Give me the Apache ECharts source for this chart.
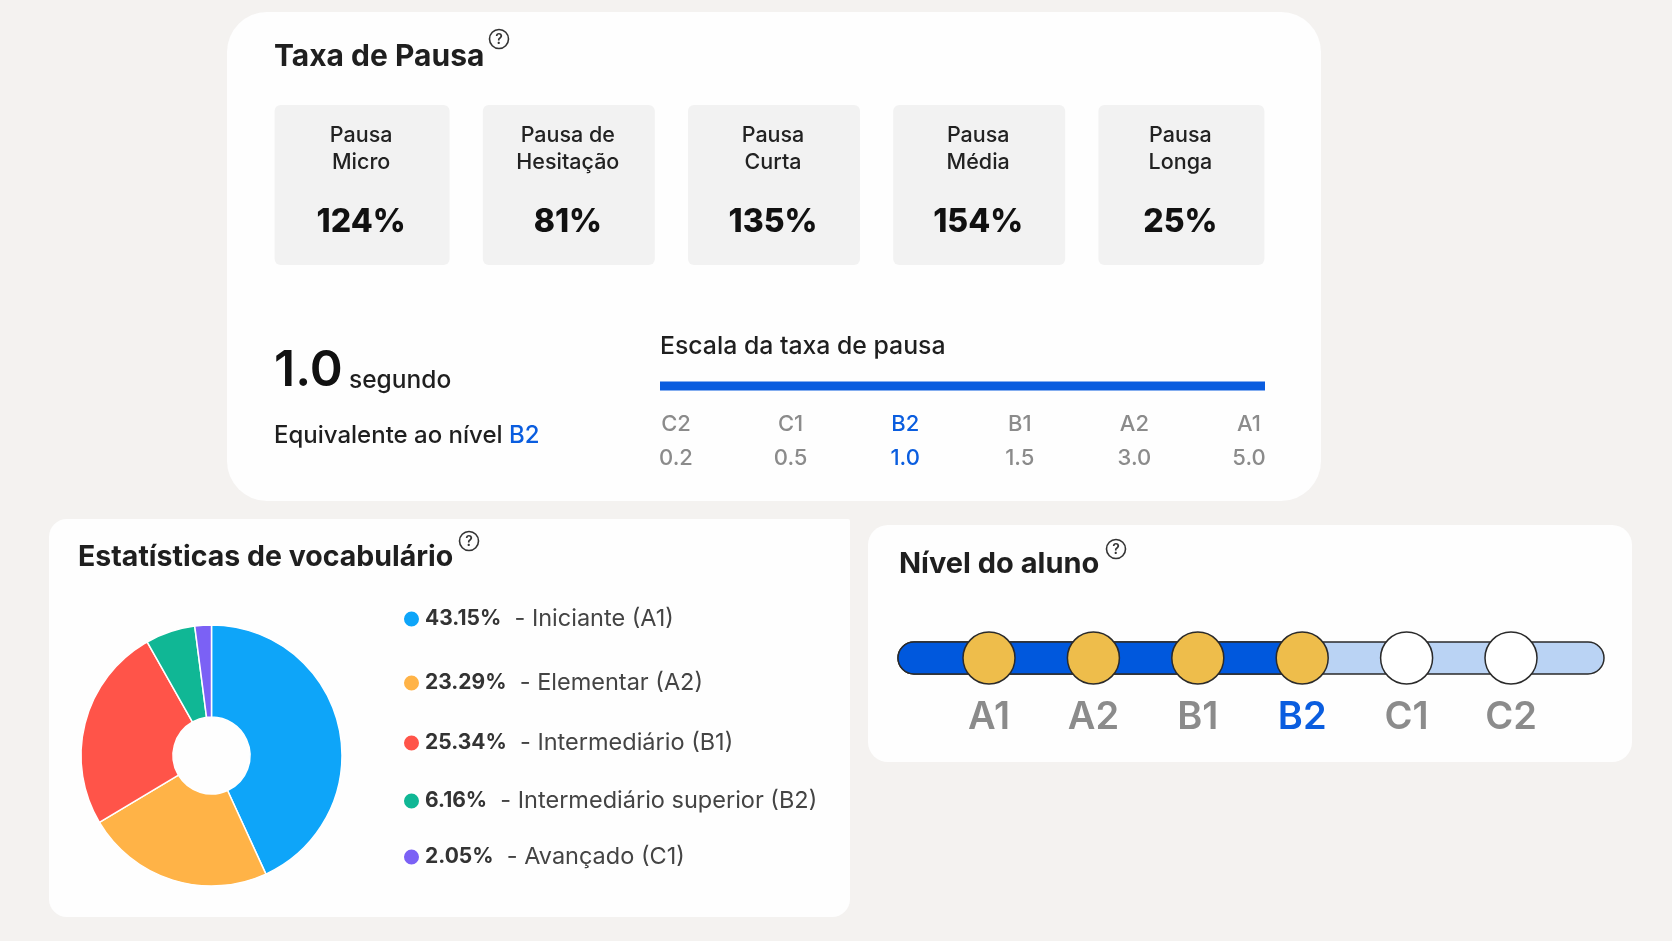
<!DOCTYPE html>
<html>
<head>
<meta charset="utf-8">
<title>Taxa de Pausa</title>
<script src="https://cdn.jsdelivr.net/npm/echarts@6/dist/echarts.min.js"></script>
<style>
html, body { margin: 0; padding: 0; background: #f4f2f0; }
#main { width: 1672px; height: 941px; }
</style>
</head>
<body>
<div id="main"></div>
<script>
// data
var pauseNames = ['Pausa\nMicro', 'Pausa de\nHesitação', 'Pausa\nCurta', 'Pausa\nMédia', 'Pausa\nLonga'];
var pauseRates = [124, 81, 135, 154, 25];
var scaleLevels = ['C2', 'C1', 'B2', 'B1', 'A2', 'A1'];
var scaleSeconds = ['0.2', '0.5', '1.0', '1.5', '3.0', '5.0'];
var vocabNames = ['Iniciante (A1)', 'Elementar (A2)', 'Intermediário (B1)', 'Intermediário superior (B2)', 'Avançado (C1)'];
var vocabShares = [43.15, 23.29, 25.34, 6.16, 2.05];
var studentLevels = ['A1', 'A2', 'B1', 'B2', 'C1', 'C2'];
var currentLevel = 'B2';

// layout and colours
var FONT = 'Inter';
var BLUE = '#0a5ddf';
var GREY = '#8b8b8b';
var INK = '#1f1f1f';
var vocabColors = ['#0ea5f9', '#ffb347', '#ff5449', '#10b795', '#7b61f5'];
var legendTops = [602, 666, 726, 784, 840];
var tileWidths = [175, 172, 172, 172, 166];
var tileOffsets = [0, 1.5, 1.5, 1.5, -1.5];

var reached = studentLevels.indexOf(currentLevel);

function card(x, y, w, h, r) {
    return {
        type: 'rect', z: -10,
        shape: {x: x, y: y, width: w, height: h, r: r},
        style: {fill: '#fefefe'}
    };
}

function helpIcon(x, y) {
    return {
        type: 'group', x: x, y: y, z: 10,
        children: [
            {type: 'circle', shape: {r: 9.5}, style: {fill: 'none', stroke: '#333', lineWidth: 1.6}},
            {type: 'text', style: {text: '?', x: 0, y: 0.5, fill: '#333', font: '600 14px ' + FONT, align: 'center', verticalAlign: 'middle'}}
        ]
    };
}

function plainText(text, x, y, size, weight, color) {
    return {
        type: 'text', z: 10,
        style: {text: text, x: x, y: y, fill: color, font: weight + ' ' + size + 'px ' + FONT, verticalAlign: 'middle'}
    };
}

function heading(text, left, top, size) {
    return {text: text, left: left, top: top, textStyle: {fontFamily: FONT, fontSize: size, fontWeight: 700, color: INK}};
}

var myChart = echarts.init(document.getElementById('main'));

var option = {
    backgroundColor: '#f4f2f0',
    animation: false,
    title: [
        heading('Taxa de Pausa', 269, 37, 30),
        heading('Estatísticas de vocabulário', 73, 538, 28.5),
        heading('Nível do aluno', 894, 545, 29)
    ],
    graphic: [
        card(227, 12, 1094, 489, 40),
        card(49, 519, 801, 398, [18, 2, 18, 18]),
        card(868, 525, 764, 237, 20),
        helpIcon(499, 39),
        helpIcon(469, 541),
        helpIcon(1116, 549),
        plainText('1.0', 274, 371, 50, 600, '#111'),
        plainText('segundo', 349, 381, 24.5, 500, INK),
        {
            type: 'text', z: 10,
            style: {
                x: 274, y: 435.5, verticalAlign: 'middle',
                text: '{a|Equivalente ao nível }{b|B2}',
                rich: {
                    a: {font: '500 24px ' + FONT, fill: INK},
                    b: {font: '500 24px ' + FONT, fill: BLUE}
                }
            }
        },
        plainText('Escala da taxa de pausa', 660, 347, 24.8, 500, INK)
    ],
    grid: [
        {left: 259.5, top: 105, width: 1026, height: 160},
        {left: 676, top: 376, width: 573, height: 20},
        {left: 989, top: 633, width: 522, height: 50}
    ],
    xAxis: [
        {gridIndex: 0, type: 'category', data: pauseNames, show: false},
        {
            gridIndex: 1, type: 'category', data: scaleLevels, boundaryGap: false,
            axisLine: {show: false}, axisTick: {show: false},
            axisLabel: {
                interval: 0, margin: 11,
                formatter: function (v, i) {
                    var s = scaleLevels[i] === currentLevel ? 'on' : 'off';
                    return '{' + s + '|' + scaleLevels[i] + '}\n{' + s + '|' + scaleSeconds[i] + '}';
                },
                rich: {
                    on: {fontFamily: FONT, fontSize: 22, lineHeight: 34, color: BLUE, fontWeight: 500},
                    off: {fontFamily: FONT, fontSize: 22, lineHeight: 34, color: GREY, fontWeight: 500}
                }
            }
        },
        {
            gridIndex: 2, type: 'category', data: studentLevels, boundaryGap: false,
            axisLine: {show: false}, axisTick: {show: false},
            axisLabel: {
                interval: 0, margin: 16, fontFamily: FONT, fontSize: 38, fontWeight: 600,
                color: function (v) { return v === currentLevel ? BLUE : GREY; }
            }
        }
    ],
    yAxis: [
        {gridIndex: 0, type: 'value', min: 0, max: 1, show: false},
        {gridIndex: 1, type: 'value', min: -1, max: 1, show: false},
        {gridIndex: 2, type: 'value', min: -1, max: 1, show: false}
    ],
    legend: vocabNames.map(function (name, i) {
        return {
            data: [name], left: 397, top: legendTops[i], orient: 'horizontal',
            icon: 'circle', itemWidth: 17, itemHeight: 17, itemGap: 12, selectedMode: false,
            formatter: function () {
                return '{p|' + vocabShares[i].toFixed(2) + '%}{n|  - ' + name + '}';
            },
            textStyle: {
                rich: {
                    p: {fontFamily: FONT, fontSize: 21, fontWeight: 700, color: '#333'},
                    n: {fontFamily: FONT, fontSize: 23.5, fontWeight: 400, color: '#444'}
                }
            }
        };
    }),
    series: [
        {
            name: 'Taxa de Pausa', type: 'custom', xAxisIndex: 0, yAxisIndex: 0,
            data: pauseRates.map(function (v, i) { return [i, v]; }),
            renderItem: function (params, api) {
                var i = params.dataIndex;
                var top = api.coord([i, 1]);
                var bottom = api.coord([i, 0]);
                var w = tileWidths[i];
                var cx = top[0] + tileOffsets[i];
                return {
                    type: 'group',
                    children: [
                        {type: 'rect', shape: {x: cx - w / 2, y: top[1], width: w, height: bottom[1] - top[1], r: 6}, style: {fill: '#f2f2f2'}},
                        {type: 'text', style: {text: pauseNames[i], x: cx - 1, y: top[1] + 44, align: 'center', verticalAlign: 'middle', font: '500 21.5px ' + FONT, lineHeight: 26.5, fill: '#222'}},
                        {type: 'text', style: {text: api.value(1) + '%', x: cx - 1, y: top[1] + 117, align: 'center', verticalAlign: 'middle', font: '800 32px ' + FONT, fill: '#111'}}
                    ]
                };
            }
        },
        {
            name: 'Escala', type: 'custom', xAxisIndex: 1, yAxisIndex: 1,
            data: [[0, 0], [scaleLevels.length - 1, 0]],
            renderItem: function (params, api) {
                if (params.dataIndex !== 0) { return; }
                var a = api.coord([0, 0]);
                var b = api.coord([scaleLevels.length - 1, 0]);
                return {type: 'rect', shape: {x: a[0] - 16, y: a[1] - 4.5, width: b[0] - a[0] + 32, height: 9}, style: {fill: BLUE}};
            }
        },
        {
            name: 'Vocabulário', type: 'pie', center: [211.5, 755.5], radius: [38.5, 130.5],
            startAngle: 90, clockwise: true, label: {show: false}, labelLine: {show: false}, silent: true,
            itemStyle: {borderColor: '#fff', borderWidth: 1.5},
            data: vocabNames.map(function (name, i) {
                return {name: name, value: vocabShares[i], itemStyle: {color: vocabColors[i]}};
            })
        },
        {
            name: 'Trilho', type: 'custom', xAxisIndex: 2, yAxisIndex: 2, z: 3,
            data: [[0, 0], [reached, 0]],
            renderItem: function (params, api) {
                var a = api.coord([0, 0]);
                var end = api.coord([studentLevels.length - 1, 0]);
                if (params.dataIndex === 0) {
                    return {type: 'rect', shape: {x: a[0] - 91, y: a[1] - 16, width: end[0] - a[0] + 184, height: 32, r: 16}, style: {fill: '#bad3f4', stroke: '#2a2a2a', lineWidth: 1.5}};
                }
                var b = api.coord([api.value(0), 0]);
                return {type: 'rect', shape: {x: a[0] - 91, y: a[1] - 16, width: b[0] - a[0] + 91, height: 32, r: [16, 0, 0, 16]}, style: {fill: '#0058dd', stroke: '#2a2a2a', lineWidth: 1.5}};
            }
        },
        {
            name: 'Nível', type: 'scatter', xAxisIndex: 2, yAxisIndex: 2, z: 5,
            symbolSize: 52, silent: true,
            data: studentLevels.map(function (level, i) {
                return {
                    value: [i, 0],
                    itemStyle: {color: i <= reached ? '#eebd4b' : '#ffffff', borderColor: '#2a2a2a', borderWidth: 1.5, opacity: 1}
                };
            })
        }
    ]
};

myChart.setOption(option);
</script>
</body>
</html>
